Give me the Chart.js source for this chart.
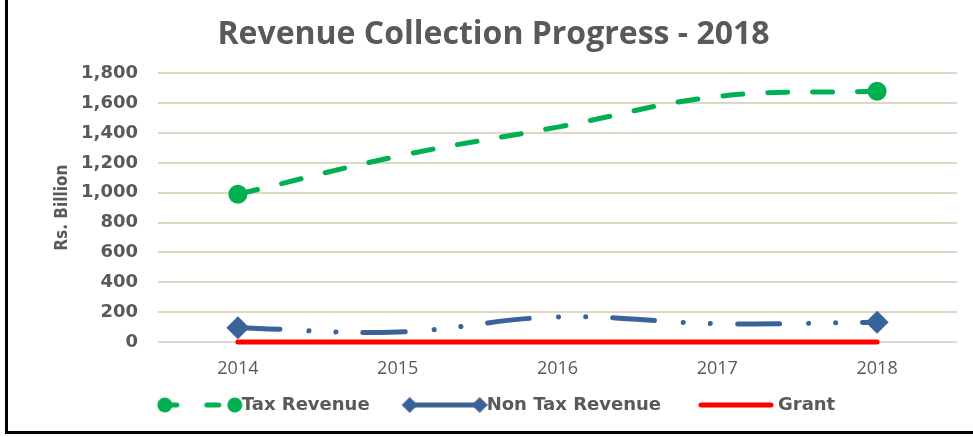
<!DOCTYPE html>
<html>
<head>
<meta charset="utf-8">
<script src="https://cdn.jsdelivr.net/npm/chart.js@4"></script>
<style>
  body { margin: 0; background: #fff; }
  #box {
    position: absolute; left: 5px; top: 0; width: 968px; height: 434px;
    border-left: 3px solid #000; border-bottom: 3px solid #000;
    box-sizing: border-box;
  }
</style>
</head>
<body>
<div id="box"><canvas id="revChart"></canvas></div>
<script>
// chart data
const years = ['2014', '2015', '2016', '2017', '2018'];
const taxRevenue = [990, 1245, 1440, 1645, 1680];
const nonTaxRevenue = [96, 67, 168, 123, 132];
const grant = [0, 0, 0, 0, 0];

const green = '#00b050';
const blue = '#3a6399';
const red = '#ff0000';
const grey = '#595959';

const legendBoxW = 88;

// little pictures for the legend: line with a marker at each end,
// pushed to the right so it sits close to the text
function legendSample(color, dash, marker) {
  let c = document.createElement('canvas');
  c.width = legendBoxW + 20; c.height = 20;
  let g = c.getContext('2d');
  let x1 = c.width - 78, x2 = c.width - 8;
  g.strokeStyle = color;
  g.fillStyle = color;
  g.lineWidth = 5;
  g.lineCap = 'round';
  g.setLineDash(dash);
  g.beginPath();
  g.moveTo(x1, 10);
  g.lineTo(x2, 10);
  g.stroke();
  g.setLineDash([]);
  [x1, x2].forEach(function (x) {
    g.beginPath();
    if (marker === 'circle') {
      g.arc(x, 10, 7.5, 0, Math.PI * 2);
    } else if (marker === 'diamond') {
      g.moveTo(x, 2); g.lineTo(x + 8, 10); g.lineTo(x, 18); g.lineTo(x - 8, 10);
      g.closePath();
    }
    if (marker) g.fill();
  });
  return c;
}

const legendPics = [
  legendSample(green, [12, 30], 'circle'),
  legendSample(blue, [], 'diamond'),
  legendSample(red, [], null)
];

// nudge title and legend a bit to the right, like the original
const shiftBoxes = {
  id: 'shiftBoxes',
  afterLayout: function (chart) {
    if (chart.titleBlock) chart.titleBlock.left += 22;
    if (chart.legend) chart.legend.left += 15;
  }
};

let ctx = document.getElementById('revChart').getContext('2d');
let myChart = new Chart(ctx, {
  type: 'line',
  data: {
    labels: years,
    datasets: [{
      label: 'Tax Revenue',
      data: taxRevenue,
      borderColor: green,
      backgroundColor: green,
      borderWidth: 5,
      borderDash: [20, 25],
      borderCapStyle: 'round',
      tension: 0.4,
      pointStyle: 'circle',
      pointRadius: [7, 0, 0, 0, 7],
      pointHoverRadius: 0,
      clip: 12
    }, {
      label: 'Non Tax Revenue',
      data: nonTaxRevenue,
      borderColor: blue,
      backgroundColor: blue,
      borderWidth: 5,
      borderDash: [42, 29, 0.1, 27, 0.1, 27],
      borderCapStyle: 'round',
      tension: 0.4,
      pointStyle: 'rectRot',
      pointRadius: [8, 0, 0, 0, 8],
      pointHoverRadius: 0,
      clip: 12
    }, {
      label: 'Grant',
      data: grant,
      borderColor: red,
      backgroundColor: red,
      borderWidth: 5,
      borderCapStyle: 'round',
      pointRadius: 0,
      clip: 12
    }]
  },
  options: {
    responsive: true,
    maintainAspectRatio: false,
    animation: false,
    layout: { padding: { left: 0, right: 16, top: 0, bottom: 7 } },
    plugins: {
      title: {
        display: true,
        text: 'Revenue Collection Progress - 2018',
        color: grey,
        font: { family: 'Open Sans', size: 32, weight: 'bold' },
        padding: { top: 16, bottom: 19 }
      },
      legend: {
        position: 'bottom',
        labels: {
          usePointStyle: true,
          pointStyleWidth: legendBoxW,
          color: grey,
          padding: 20,
          font: { family: 'DejaVu Sans', size: 18, weight: 'bold' },
          generateLabels: function (chart) {
            let items = Chart.defaults.plugins.legend.labels.generateLabels(chart);
            items.forEach(function (it, i) { it.pointStyle = legendPics[i]; });
            return items;
          }
        }
      },
      tooltip: { enabled: false }
    },
    scales: {
      x: {
        offset: true,
        grid: { display: false },
        border: { display: false },
        ticks: {
          color: grey,
          padding: 8,
          font: { family: 'Open Sans', size: 18 }
        },
        afterFit: function (s) { s.height = 34; }
      },
      y: {
        min: 0,
        max: 1800,
        border: { display: false },
        grid: {
          drawTicks: false,
          lineWidth: 2,
          color: function (c) { return c.tick.value === 0 ? '#d9d9d9' : '#ddd8c4'; }
        },
        ticks: {
          stepSize: 200,
          color: grey,
          padding: 20,
          font: { family: 'DejaVu Sans', size: 18, weight: 'bold' },
          callback: function (v) { return v.toLocaleString('en-US'); }
        },
        title: {
          display: true,
          text: 'Rs. Billion',
          color: grey,
          font: { family: "'DejaVu Sans Condensed', 'Open Sans'", size: 17, weight: 'bold' },
          padding: { top: 44, bottom: 0 }
        },
        afterFit: function (s) { s.width = 150; }
      }
    }
  },
  plugins: [shiftBoxes]
});
</script>
</body>
</html>
